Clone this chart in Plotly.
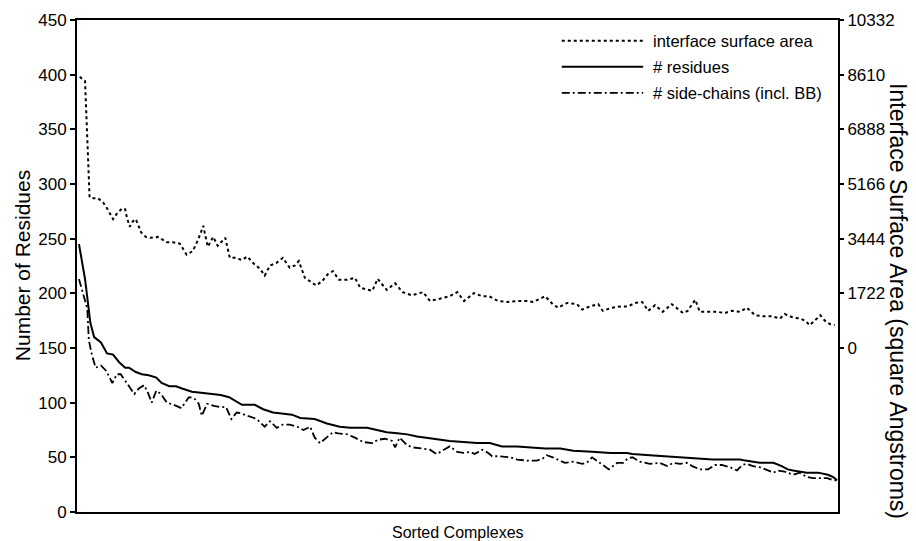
import plotly.graph_objects as go

# ---- data (x = position among sorted complexes, in % of all complexes) ----
area_x = [0.1, 0.8, 1.4, 1.7, 2.5, 3.2, 3.7, 4.5, 5.0, 5.7, 6.1, 6.3, 6.7, 7.1, 7.5, 7.8, 8.2, 8.8,
          9.5, 10.4, 11.1, 11.6, 12.4, 13.3, 14.2, 15.0, 15.7, 16.4, 16.6, 17.0, 17.7, 18.3, 19.3,
          19.9, 20.6, 21.5, 22.2, 23.0, 23.9, 24.5, 25.2, 26.0, 26.9, 27.8, 28.5, 29.0, 29.8, 30.5,
          31.3, 32.1, 32.8, 33.5, 34.3, 35.4, 36.4, 37.1, 38.1, 38.7, 39.4, 40.6, 41.7, 42.7, 43.9,
          45.4, 46.3, 47.6, 48.9, 49.9, 50.8, 52.1, 53.2, 54.1, 55.3, 56.5, 57.8, 59.1, 59.9, 61.5,
          62.5, 63.2, 64.4, 65.7, 66.4, 67.4, 68.5, 69.1, 70.3, 71.4, 72.4, 73.4, 74.3, 75.1, 76.0,
          77.0, 78.2, 79.7, 80.3, 81.3, 81.9, 83.2, 84.2, 85.2, 86.1, 87.2, 88.1, 89.2, 90.2, 91.4,
          92.5, 93.1, 94.2, 95.1, 95.8, 96.4, 97.1, 97.8, 98.4, 99.1, 99.7]
area_y = [8540, 8410, 4750, 4720, 4720, 4580, 4400, 4060, 4230, 4400, 4370, 4130, 3820, 3990, 4060,
          3850, 3640, 3500, 3470, 3500, 3400, 3330, 3330, 3290, 2940, 3050, 3400, 3850, 3610, 3190,
          3500, 3220, 3470, 2840, 2840, 2770, 2880, 2670, 2490, 2280, 2600, 2670, 2840, 2530, 2600,
          2740, 2210, 2110, 1970, 2110, 2320, 2420, 2150, 2150, 2210, 1900, 1830, 1800, 2180, 1830,
          2040, 1760, 1660, 1760, 1480, 1550, 1630, 1760, 1480, 1730, 1630, 1630, 1480, 1450, 1480,
          1480, 1450, 1630, 1380, 1270, 1420, 1380, 1210, 1310, 1380, 1170, 1270, 1310, 1310, 1420,
          1450, 1170, 1350, 1140, 1380, 1100, 1170, 1520, 1140, 1140, 1140, 1100, 1170, 1140, 1270,
          1030, 1000, 1000, 930, 1070, 960, 930, 860, 720, 860, 1030, 860, 750, 720]

res_x = [0.0, 0.8, 1.1, 1.5, 2.0, 2.9, 3.7, 4.5, 5.3, 6.1, 6.6, 7.5, 8.3, 9.2, 10.2, 10.9, 11.9,
         12.8, 13.6, 14.9, 16.1, 17.4, 18.7, 19.8, 20.8, 21.5, 23.2, 24.3, 25.6, 26.9, 28.1, 29.2,
         31.1, 32.7, 34.4, 35.8, 38.0, 39.3, 40.6, 42.0, 43.3, 44.6, 45.6, 47.2, 48.9, 50.7, 52.5,
         54.2, 55.8, 57.8, 59.8, 61.5, 63.5, 65.2, 67.7, 70.1, 72.3, 73.0, 75.3, 77.3, 79.6, 82.6,
         83.6, 87.2, 87.9, 89.8, 91.6, 92.7, 93.5, 94.2, 95.4, 96.0, 97.5, 98.8, 99.5, 100.0]
res_y = [245, 213, 196, 173, 160, 155, 145, 144, 137, 132, 132, 128, 126, 125, 123, 118, 115,
         115, 113, 110, 109, 108, 107, 105, 101, 98, 98, 94, 91, 90, 89, 86, 85, 81, 78, 77, 77,
         75, 73, 72, 71, 69, 68, 67, 65, 64, 63, 63, 60, 60, 59, 58, 58, 56, 55, 54, 54, 53, 52,
         51, 50, 49, 48, 48, 47, 45, 45, 42, 39, 38, 37, 36, 36, 34, 32, 29]

sc_x = [0.0, 0.4, 0.9, 1.1, 1.3, 1.7, 2.2, 2.9, 3.6, 4.4, 5.0, 5.5, 6.3, 7.3, 7.9, 8.6, 9.1, 9.6,
        10.2, 10.8, 11.6, 12.5, 13.5, 14.5, 15.2, 15.8, 16.2, 16.9, 17.8, 18.7, 19.4, 20.1, 20.8,
        21.5, 22.2, 23.1, 23.6, 24.5, 25.2, 26.1, 26.9, 27.8, 28.8, 29.6, 30.5, 31.1, 31.8, 32.7,
        33.5, 34.2, 35.4, 36.4, 37.5, 38.7, 39.4, 40.4, 41.3, 41.7, 42.3, 43.3, 44.1, 45.3, 46.3,
        47.2, 48.3, 48.9, 49.9, 50.7, 51.6, 52.2, 53.2, 54.0, 54.5, 55.5, 56.9, 57.8, 59.1, 60.4,
        61.2, 61.7, 62.5, 63.5, 64.1, 65.2, 66.4, 67.0, 67.7, 68.5, 69.1, 69.9, 71.0, 71.8, 72.4,
        73.0, 74.0, 75.3, 76.6, 77.6, 78.4, 79.3, 80.2, 80.9, 81.9, 83.0, 83.9, 84.8, 85.9, 86.8,
        87.5, 88.1, 88.9, 89.8, 90.9, 91.6, 92.2, 93.1, 94.2, 95.1, 96.0, 96.8, 97.8, 98.7, 99.5,
        100.0]
sc_y = [213, 204, 191, 186, 157, 144, 132, 134, 129, 118, 126, 126, 118, 108, 113, 116, 109, 100,
        111, 108, 100, 98, 95, 105, 104, 99, 88, 99, 97, 96, 96, 85, 91, 90, 88, 86, 84, 78, 83,
        77, 80, 80, 78, 75, 78, 68, 63, 68, 73, 72, 71, 68, 64, 63, 66, 67, 65, 59, 68, 61, 59, 58,
        57, 53, 58, 60, 55, 54, 55, 53, 57, 54, 51, 51, 50, 48, 47, 47, 49, 52, 50, 47, 45, 46, 44,
        45, 50, 46, 43, 39, 45, 45, 49, 50, 46, 44, 45, 42, 45, 44, 45, 42, 39, 39, 43, 43, 41, 38,
        43, 44, 42, 41, 38, 36, 38, 37, 34, 36, 32, 31, 31, 31, 29, 29]

left_ticks = [0, 50, 100, 150, 200, 250, 300, 350, 400, 450]
right_ticks = [0, 1722, 3444, 5166, 6888, 8610, 10332]
right_tick_text = [str(v) for v in right_ticks]

legend_names = ["interface surface area", "# residues", "# side-chains (incl. BB)"]

FONT = "Liberation Sans, Arial, sans-serif"
DOT = "3px,3px"
DASHDOT = "8px,3px,2px,3px"

fig = go.Figure()
fig.add_trace(go.Scatter(x=area_x, y=area_y, mode="lines", yaxis="y2", name=legend_names[0],
                         line=dict(color="black", width=2, dash=DOT)))
fig.add_trace(go.Scatter(x=res_x, y=res_y, mode="lines", name=legend_names[1],
                         line=dict(color="black", width=2)))
fig.add_trace(go.Scatter(x=sc_x, y=sc_y, mode="lines", name=legend_names[2],
                         line=dict(color="black", width=1.8, dash=DASHDOT)))

# custom legend (long line samples as in the original)
styles = [dict(dash=DOT, width=2), dict(width=2), dict(dash=DASHDOT, width=1.8)]
rows = [0.958, 0.905, 0.852]
for name, st, yy in zip(legend_names, styles, rows):
    fig.add_shape(type="line", xref="paper", yref="paper", x0=0.637, x1=0.744, y0=yy, y1=yy,
                  line=dict(color="black", **st))
    fig.add_annotation(xref="paper", yref="paper", x=0.754, y=yy, text=name, showarrow=False,
                       xanchor="left", yanchor="middle", font=dict(size=16.5, color="black", family=FONT))

# axis titles
fig.add_annotation(xref="paper", yref="paper", x=0.5, y=-0.041, yanchor="middle",
                   text="Sorted Complexes", showarrow=False, font=dict(size=16, family=FONT, color="black"))
fig.add_annotation(xref="paper", yref="paper", x=-0.072, y=0.5, xanchor="center", yanchor="middle",
                   textangle=-90, text="Number of Residues", showarrow=False,
                   font=dict(size=21, family=FONT, color="black"))
fig.add_annotation(xref="paper", yref="paper", x=1.078, y=0.428, xanchor="center", yanchor="middle",
                   textangle=90, text="Interface Surface Area (square Angstroms)", showarrow=False,
                   font=dict(size=23, family=FONT, color="black"))

fig.update_layout(
    template="none",
    width=916, height=541,
    margin=dict(l=77, r=78, t=20, b=29, autoexpand=False),
    paper_bgcolor="white", plot_bgcolor="white",
    showlegend=False,
    font=dict(family=FONT, size=16, color="black"),
    xaxis=dict(range=[-0.26, 100.13], showticklabels=False, ticks="", showgrid=False, zeroline=False,
               showline=True, mirror=True, linecolor="black", linewidth=2, automargin=False),
    yaxis=dict(range=[0, 450], tickvals=left_ticks, ticks="outside", ticklen=5, tickwidth=1.5,
               tickcolor="black", showgrid=False, zeroline=False, showline=True, linecolor="black",
               linewidth=2, tickfont=dict(size=17), automargin=False),
    yaxis2=dict(range=[-5166, 10332], tickvals=right_ticks, ticktext=right_tick_text, overlaying="y",
                side="right", ticks="outside", ticklen=4, tickwidth=1.5, tickcolor="black",
                showgrid=False, zeroline=False, showline=True, linecolor="black", linewidth=2,
                tickfont=dict(size=17), automargin=False),
)

fig.write_html("out.html", config={"displayModeBar": False},
               post_script="document.body.style.margin='0';document.body.style.padding='0';")
